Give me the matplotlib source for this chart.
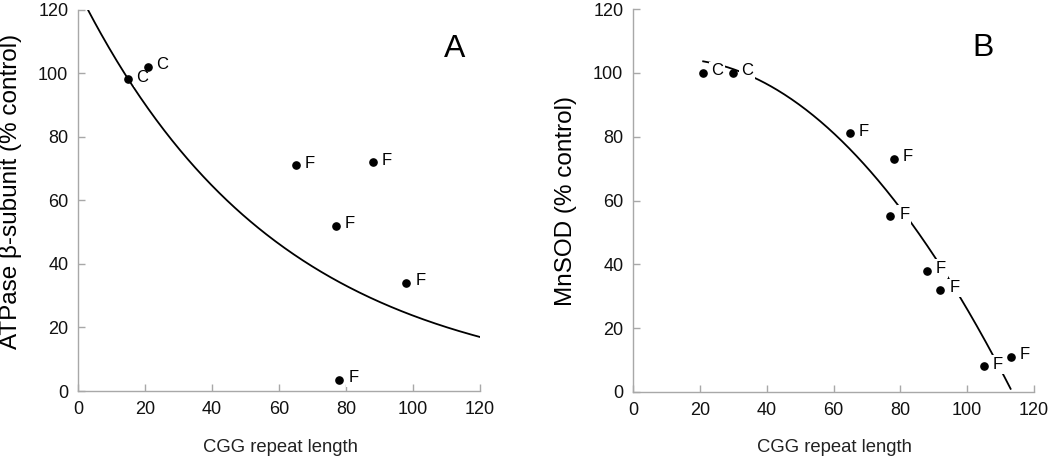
import numpy as np
import matplotlib
matplotlib.use("Agg")
import matplotlib.pyplot as plt

plt.rcParams['font.family'] = ['Liberation Sans', 'DejaVu Sans']

# Panel A data
a_x = [15, 21, 65, 88, 77, 98, 78]
a_y = [98, 102, 71, 72, 52, 34, 3.5]
a_lab = ['C', 'C', 'F', 'F', 'F', 'F', 'F']
# Panel A fitted curve: y = amp * exp(-rate * x)
a_fit_amp = 126.0
a_fit_rate = 0.0167
a_fit_range = (3, 120)

# Panel B data
b_x = [21, 30, 65, 78, 77, 88, 92, 105, 113]
b_y = [100, 100, 81, 73, 55, 38, 32, 8, 11]
b_lab = ['C', 'C', 'F', 'F', 'F', 'F', 'F', 'F', 'F']
# Panel B fitted curve: quadratic c0 + c1 x + c2 x^2
b_fit = (102.9, 0.247, -0.010166)
b_fit_range = (21, 113)

xticks = [0, 20, 40, 60, 80, 100, 120]
yticks = [0, 20, 40, 60, 80, 100, 120]

W, H = 1050, 459
fig = plt.figure(figsize=(W/100, H/100), dpi=100)
axA = fig.add_axes([78/W, 1-391/H, (480-78)/W, (391-9.5)/H])
axB = fig.add_axes([633/W, 1-392/H, (1034-633)/W, (392-9)/H])

spine_col = '#a8a8a8'

def style(ax, xlabel_cx):
    ax.set_xlim(0, 120)
    ax.set_ylim(0, 120)
    ax.set_xticks(xticks)
    ax.set_yticks(yticks)
    for s in ['top', 'right']:
        ax.spines[s].set_visible(False)
    for s in ['left', 'bottom']:
        ax.spines[s].set_color(spine_col)
        ax.spines[s].set_linewidth(1.0)
    ax.tick_params(direction='in', length=5, width=1.0, color=spine_col,
                   labelsize=13, pad=7, labelcolor='#111111')
    fig.text(xlabel_cx/W, 1-447/H, 'CGG repeat length', fontsize=13.3,
             color='#222222', ha='center', va='center')

def points(ax, xs, ys, labs):
    ax.plot(xs, ys, 'o', color='black', markersize=5.2, zorder=5, clip_on=False)
    for x, y, t in zip(xs, ys, labs):
        ax.annotate(t, (x, y), xytext=(10, 1.5), textcoords='offset points',
                    ha='center', va='center', fontsize=12, zorder=4,
                    bbox=dict(boxstyle='square,pad=0.1', fc='white', ec='none'))

# Panel A
style(axA, 280)
xa = np.linspace(a_fit_range[0], a_fit_range[1], 300)
axA.plot(xa, a_fit_amp * np.exp(-a_fit_rate * xa), color='black', lw=1.3, zorder=3)
points(axA, a_x, a_y, a_lab)
fig.text(11/W, 1-191/H, 'ATPase β-subunit (% control)', fontsize=17.5,
         rotation=90, ha='center', va='center')
axA.text(112.5, 107.5, 'A', fontsize=23, ha='center', va='center')

# Panel B
style(axB, 834)
xb = np.linspace(b_fit_range[0], b_fit_range[1], 300)
axB.plot(xb, b_fit[0] + b_fit[1] * xb + b_fit[2] * xb**2, color='black', lw=1.3, zorder=3)
points(axB, b_x, b_y, b_lab)
fig.text(566/W, 1-201/H, 'MnSOD (% control)', fontsize=17.5,
         rotation=90, ha='center', va='center')
axB.text(104.8, 107.8, 'B', fontsize=23, ha='center', va='center')

fig.savefig('out.png', dpi=100)
